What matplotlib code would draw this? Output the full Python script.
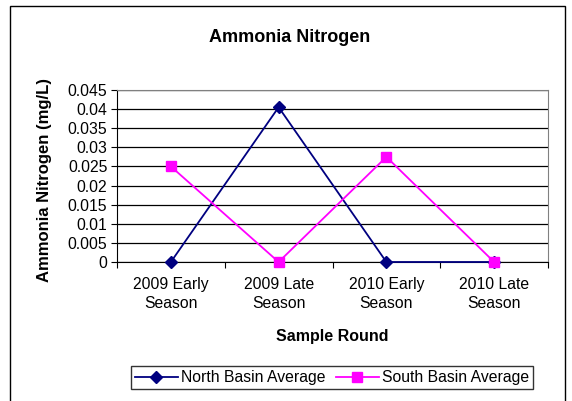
import numpy as np
import matplotlib.pyplot as plt
from matplotlib.patches import Rectangle

plt.rcParams['font.family'] = ['Liberation Sans', 'DejaVu Sans']

# data
categories = ['2009 Early\nSeason', '2009 Late\nSeason', '2010 Early\nSeason', '2010 Late\nSeason']
north = [0.0, 0.0405, 0.0, 0.0]
south = [0.025, 0.0, 0.0275, 0.0]

W, H = 572, 401
fig = plt.figure(figsize=(W/100, H/100), dpi=100)
# outer chart border
fig.patches.append(Rectangle((10/W, -0.01), 555/W, 1 - 6/H + 0.01, transform=fig.transFigure,
                             fill=False, edgecolor='black', linewidth=1.0))

ax = fig.add_axes([117/W, 1 - 262/H, 431/W, 172/H])
x = np.arange(len(categories))

ax.plot(x, north, color='#000080', marker='D', markersize=5.8, linewidth=1.3,
        label='North Basin Average', clip_on=False, zorder=3)
ax.plot(x, south, color='#FF00FF', marker='s', markersize=7, linewidth=1.3,
        label='South Basin Average', clip_on=False, zorder=3)

ax.set_xlim(-0.5, 3.5)
ax.set_ylim(0, 0.045)
yt = np.arange(0, 0.0451, 0.005)
ax.set_yticks(yt)
ax.set_yticklabels(['0', '0.005', '0.01', '0.015', '0.02', '0.025', '0.03', '0.035', '0.04', '0.045'])
ax.yaxis.grid(True, color='black', linewidth=0.9)
ax.set_axisbelow(True)

# category boundaries as major ticks, labels on minor ticks
ax.set_xticks(np.arange(-0.5, 3.6, 1.0))
ax.set_xticklabels([])
ax.set_xticks(x, minor=True)
ax.set_xticklabels(categories, minor=True, linespacing=1.3)
ax.tick_params(axis='x', which='minor', length=0, pad=11, labelsize=11.3)
ax.tick_params(axis='x', which='major', length=4, direction='out')
ax.tick_params(axis='y', length=4, direction='out', labelsize=11.3, pad=3)

for s in ['top', 'right']:
    ax.spines[s].set_color('#808080')
for s in ['left', 'bottom']:
    ax.spines[s].set_color('black')

fig.text(290/W, 1 - 38/H, 'Ammonia Nitrogen', fontsize=13, fontweight='bold',
         ha='center', va='center')
fig.text(332/W, 1 - 336/H, 'Sample Round', fontsize=11.5, fontweight='bold',
         ha='center', va='center')
fig.text(45/W, 1 - 180/H, 'Ammonia Nitrogen (mg/L)', fontsize=12, fontweight='bold',
         ha='center', va='center', rotation=90)

leg = fig.legend(loc='center', bbox_to_anchor=(332/W, 1 - 377.5/H), ncol=2, fontsize=11.3,
                 frameon=True, fancybox=False, edgecolor='black', handlelength=2.7,
                 columnspacing=0.7, handletextpad=0.2, borderpad=0.25)
leg.get_frame().set_linewidth(1.0)

fig.savefig('out.png', dpi=100)
